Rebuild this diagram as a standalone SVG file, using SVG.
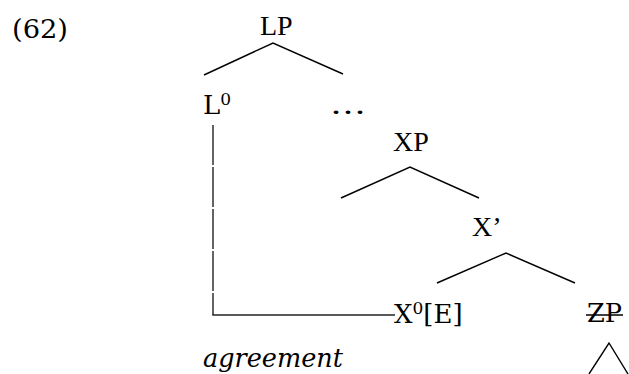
<svg xmlns="http://www.w3.org/2000/svg" width="629" height="374" viewBox="0 0 629 374">
<style>
.c{font-family:"DejaVu Serif","Liberation Serif",serif;font-size:26px;fill:#000}
.t{font-family:"Liberation Serif","Times New Roman",serif;font-size:28px;fill:#000}
.sup{font-size:17px}
.br{stroke:#000;stroke-width:1.4;fill:none}
.ag{stroke:#222;stroke-width:1.4;fill:none}
</style>
<rect width="629" height="374" fill="#fff"/>
<g id="label"><text class="c" x="12" y="38" textLength="56" lengthAdjust="spacingAndGlyphs">(62)</text></g>
<g id="LP"><text class="t" x="260" y="35">LP</text></g>
<g id="L0"><text class="c" x="203" y="114">L<tspan class="sup" dy="-9">0</tspan></text></g>
<g id="dots"><text class="c" x="330" y="114" textLength="36" lengthAdjust="spacingAndGlyphs">…</text></g>
<g id="XP"><text class="t" x="393" y="151">XP</text></g>
<g id="Xbar"><text class="t" x="472" y="236">X’</text></g>
<g id="X0E"><text class="c" x="394" y="323">X<tspan class="sup" dy="-9">0</tspan><tspan dy="9">[E]</tspan></text></g>
<g id="ZP"><text class="c" x="587" y="322" textLength="35" lengthAdjust="spacingAndGlyphs">ZP</text><line class="br" x1="586" y1="315" x2="623" y2="315"/></g>
<g id="agreement"><text class="c" x="203" y="367" font-style="italic" textLength="140" lengthAdjust="spacingAndGlyphs">agreement</text></g>
<g id="connectors">
<polyline class="br" points="204,75 273,43 343,74"/>
<polyline class="br" points="341,198 410,167 479,198"/>
<polyline class="br" points="437,283 506,253 575,283"/>
<polyline class="br" points="589,374 609,343 628,374"/>
<line class="ag" x1="213" y1="125" x2="213" y2="315" stroke-dasharray="40 2"/>
<line class="ag" x1="212.3" y1="315" x2="395" y2="315"/>
</g>
</svg>
